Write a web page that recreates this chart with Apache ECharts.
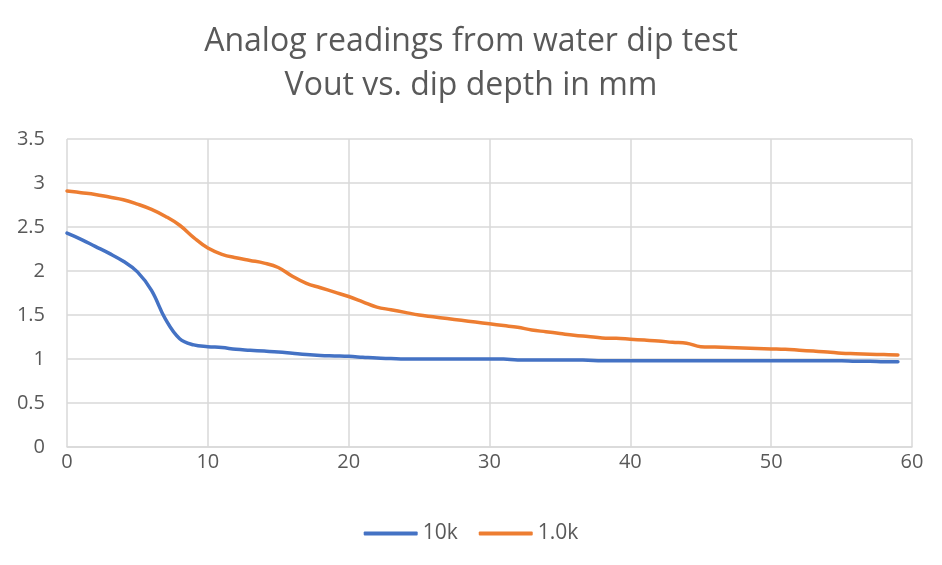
<!DOCTYPE html>
<html><head><meta charset="utf-8">
<script src="https://cdn.jsdelivr.net/npm/echarts@6/dist/echarts.min.js"></script>
<style>html,body{margin:0;padding:0;background:#fff}#c{width:942px;height:565px}</style>
</head><body><div id="c"></div>
<script>
const depth = [];
for (let i = 0; i <= 59; i++) depth.push(i);
const v10k = [2.43,2.36,2.28,2.20,2.11,1.99,1.78,1.45,1.23,1.16,
  1.14,1.13,1.11,1.10,1.09,1.08,1.065,1.05,1.04,1.035,
  1.03,1.02,1.01,1.005,1.0,1.0,1.0,1.0,1.0,1.0,
  1.0,1.0,0.99,0.99,0.99,0.99,0.99,0.985,0.98,0.98,
  0.98,0.98,0.98,0.98,0.98,0.98,0.98,0.98,0.98,0.98,
  0.98,0.98,0.98,0.98,0.98,0.98,0.975,0.975,0.97,0.97];
const v1k = [2.91,2.89,2.87,2.84,2.81,2.76,2.70,2.62,2.52,2.38,
  2.26,2.19,2.15,2.12,2.09,2.04,1.94,1.86,1.81,1.76,
  1.71,1.65,1.59,1.56,1.53,1.50,1.48,1.46,1.44,1.42,
  1.40,1.38,1.36,1.33,1.31,1.29,1.27,1.255,1.24,1.235,
  1.225,1.215,1.205,1.19,1.18,1.14,1.135,1.13,1.125,1.12,
  1.115,1.11,1.10,1.09,1.08,1.065,1.06,1.055,1.05,1.045];
const seriesNames = ['10k', '1.0k'];
const titleLines = ['Analog readings from water dip test', 'Vout vs. dip depth in mm'];

const chart = echarts.init(document.getElementById('c'));
const txt = '#595959';
chart.setOption({
  animation: false,
  title: {
    text: titleLines.join('\n'),
    left: 'center', top: 15,
    textStyle: { fontFamily: 'Open Sans', fontSize: 32, fontWeight: 'normal', color: txt, lineHeight: 44 }
  },
  legend: {
    bottom: 16, left: 'center',
    icon: 'roundRect',
    itemWidth: 54, itemHeight: 4, itemGap: 21,
    textStyle: { fontFamily: 'Open Sans', fontSize: 21, color: txt },
    data: seriesNames
  },
  grid: { left: 67, right: 30, top: 139, bottom: 118 },
  xAxis: {
    type: 'value', min: 0, max: 60, interval: 10,
    axisLine: { show: true, lineStyle: { color: '#d9d9d9', width: 1.5 } },
    axisTick: { show: false },
    splitLine: { show: true, lineStyle: { color: '#d9d9d9', width: 1.5 } },
    axisLabel: { fontFamily: 'Open Sans', fontSize: 20, color: txt, margin: 5 }
  },
  yAxis: {
    type: 'value', min: 0, max: 3.5, interval: 0.5,
    axisLine: { show: false },
    axisTick: { show: false },
    splitLine: { show: true, lineStyle: { color: '#d9d9d9', width: 1.5 } },
    axisLabel: { fontFamily: 'Open Sans', fontSize: 20, color: txt, margin: 22 }
  },
  series: [
    { name: seriesNames[0], type: 'line', smooth: 0.4, showSymbol: false, symbol: 'none',
      data: depth.map((d, i) => [d, v10k[i]]),
      lineStyle: { color: '#4472C4', width: 3.5, cap: 'round' }, itemStyle: { color: '#4472C4' } },
    { name: seriesNames[1], type: 'line', smooth: 0.4, showSymbol: false, symbol: 'none',
      data: depth.map((d, i) => [d, v1k[i]]),
      lineStyle: { color: '#ED7D31', width: 3.5, cap: 'round' }, itemStyle: { color: '#ED7D31' } }
  ]
});
</script></body></html>
